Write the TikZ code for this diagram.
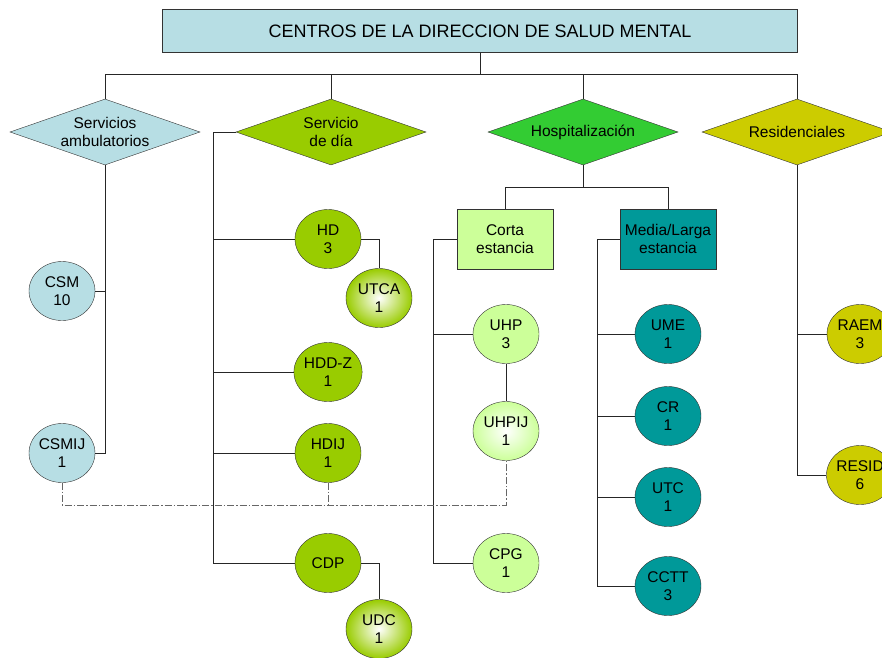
\documentclass[tikz,border=0pt]{standalone}
\usepackage{fontspec}
\setmainfont{Liberation Sans}
\usetikzlibrary{shapes.geometric}
\usetikzlibrary{positioning}

\definecolor{celeste}{RGB}{183,222,228}
\definecolor{verdedia}{RGB}{153,204,0}
\definecolor{verdehosp}{RGB}{51,204,51}
\definecolor{oliva}{RGB}{204,204,0}
\definecolor{verdeclaro}{RGB}{204,255,153}
\definecolor{verdeazul}{RGB}{0,153,153}

\begin{document}
\begin{tikzpicture}[x=1pt,y=-1pt,font=\fontsize{15.5}{18}\selectfont,
    rombo/.style={diamond,draw=black!80,shape aspect=2.85,minimum width=190,minimum height=66,inner sep=0pt,align=center},
    centro/.style={ellipse,draw=black!80,minimum width=66,minimum height=59,inner sep=0pt,align=center},
    caja/.style={rectangle,draw=black!80,minimum width=96,minimum height=60,inner sep=1pt,align=center},
    linea/.style={draw=black!85,line width=0.8pt},
    enlace/.style={draw=black!60,line width=0.8pt,dash pattern=on 7pt off 2pt on 1.5pt off 2pt}]

    \useasboundingbox (0,0) rectangle (882,657);
    \clip (0,0) rectangle (882,657);

    \node[rectangle,draw=black!80,fill=celeste,minimum width=635,minimum height=43,font=\fontsize{18}{20}\selectfont](titulo)at(480,31){CENTROS DE LA DIRECCION DE SALUD MENTAL};

    % tipos de servicio
    \node[rombo,fill=celeste](amb)at(105,132){Servicios\\ambulatorios};
    \node[rombo,fill=verdedia](dia)at(331,132){Servicio\\de día};
    \node[rombo,fill=verdehosp](hosp)at(583,132){Hospitalización};
    \node[rombo,fill=oliva](res)at(797,132){Residenciales};

    \node[caja,fill=verdeclaro](corta)at(505,239){Corta\\estancia};
    \node[caja,fill=verdeazul](media)at(668,239){Media/Larga\\estancia};

    % centros
    \node[centro,fill=celeste](csm)at(62,291){CSM\\10};
    \node[centro,fill=celeste](csmij)at(62,453){CSMIJ\\1};

    \node[centro,fill=verdedia](hd)at(328,239){HD\\3};
    \node[centro,inner color=white,outer color=verdedia](utca)at(379,298){UTCA\\1};
    \node[centro,fill=verdedia](hddz)at(328,372){HDD-Z\\1};
    \node[centro,fill=verdedia](hdij)at(328,453){HDIJ\\1};
    \node[centro,fill=verdedia](cdp)at(328,563){CDP};
    \node[centro,inner color=white,outer color=verdedia](udc)at(379,629){UDC\\1};

    \node[centro,fill=verdeclaro](uhp)at(506,334){UHP\\3};
    \node[centro,inner color=white,outer color=verdeclaro](uhpij)at(506,431){UHPIJ\\1};
    \node[centro,fill=verdeclaro](cpg)at(506,563){CPG\\1};

    \node[centro,fill=verdeazul](ume)at(668,334){UME\\1};
    \node[centro,fill=verdeazul](cr)at(668,416){CR\\1};
    \node[centro,fill=verdeazul](utc)at(668,497){UTC\\1};
    \node[centro,fill=verdeazul](cctt)at(668,586){CCTT\\3};

    \node[centro,fill=oliva](raem)at(860,334){RAEM\\3};
    \node[centro,fill=oliva](resid)at(860,475){RESID\\6};

    % lineas
    \foreach \t in {amb,dia,hosp,res}
        \draw[linea](titulo.south)--++(0,22)-|(\t.north);

    \draw[linea](amb.south)|-(csmij);
    \draw[linea](amb.south|-csm)--(csm);

    \coordinate(ejedia)at(213,132);
    \draw[linea](dia.west)--(ejedia)|-(cdp);
    \foreach \c in {hd,hddz,hdij}
        \draw[linea](ejedia|-\c)--(\c);
    \draw[linea](hd.east)-|(utca.north);
    \draw[linea](cdp.east)-|(udc.north);

    \draw[linea](hosp.south)--++(0,22)-|(corta.north);
    \draw[linea](hosp.south)--++(0,22)-|(media.north);

    \coordinate(ejecorta)at(433,239);
    \draw[linea](corta.west)--(ejecorta)|-(cpg);
    \draw[linea](ejecorta|-uhp)--(uhp);
    \draw[linea](uhp)--(uhpij);

    \coordinate(ejemedia)at(597,239);
    \draw[linea](media.west)--(ejemedia)|-(cctt);
    \foreach \c in {ume,cr,utc}
        \draw[linea](ejemedia|-\c)--(\c);

    \draw[linea](res.south)|-(resid);
    \draw[linea](res.south|-raem)--(raem);

    % enlaces infanto-juveniles
    \coordinate(ij)at(0,505);
    \draw[enlace](csmij.south)--(csmij.south|-ij)-|(uhpij.south);
    \draw[enlace](hdij.south)--(hdij.south|-ij);

\end{tikzpicture}
\end{document}
